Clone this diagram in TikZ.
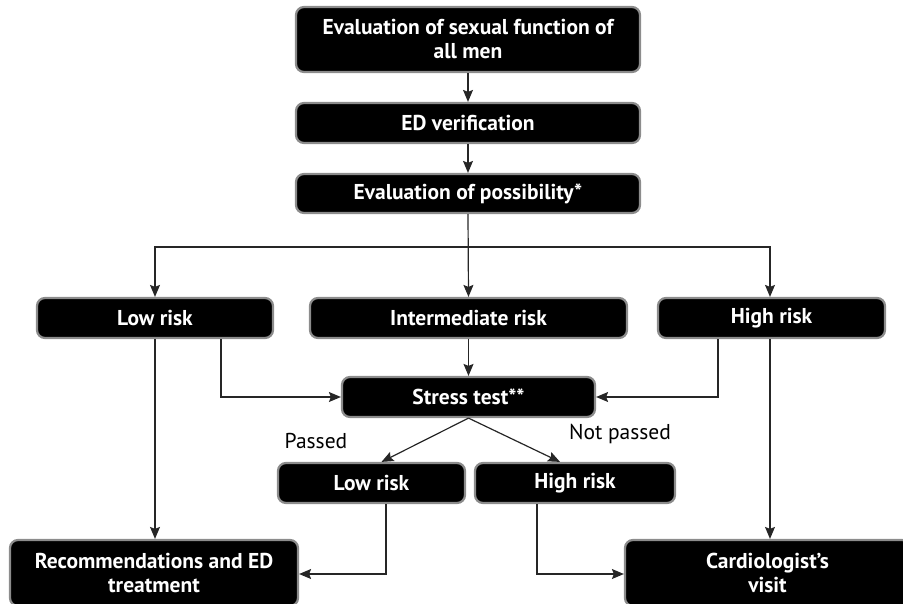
\documentclass[tikz,border=0pt]{standalone}
\usepackage{fontspec}
\setmainfont{PT Sans}
\usetikzlibrary{calc,positioning,arrows.meta}

\begin{document}
\begin{tikzpicture}[
  x=1pt, y=-1pt,
  bbox/.style={draw=black!45, fill=black, text=white, line width=2.2pt,
    rounded corners=8pt, align=center, inner sep=0pt,
    font=\fontsize{21.5}{24}\selectfont\bfseries},
  lbl/.style={font=\fontsize{21.5}{24}\selectfont, text=black},
  arr/.style={-{Stealth[length=12pt,width=10pt,inset=2pt]}, line width=1.2pt, black!85}
]
\useasboundingbox (0,0) rectangle (903,603);

\node[bbox, minimum width=344pt, minimum height=65pt] (allmen) at (468,39.5) {Evaluation of sexual function of\\all men};
\node[bbox, minimum width=344pt, minimum height=40pt] (edver)  at (468,123)   {ED verification};
\node[bbox, minimum width=344pt, minimum height=39pt] (possib) at (468,193.5) {Evaluation of possibility*};

\node[bbox, minimum width=236pt, minimum height=40pt] (lowr)  at (155,318)   {Low risk};
\node[bbox, minimum width=317pt, minimum height=40pt] (intr)  at (468.5,318) {Intermediate risk};
\node[bbox, minimum width=227pt, minimum height=40pt] (highr) at (771.5,318) {High risk};

\node[bbox, minimum width=253pt, minimum height=40pt] (stress) at (468.5,397) {Stress test**};

\node[bbox, minimum width=187pt, minimum height=40pt] (slow)  at (371.5,483) {Low risk};
\node[bbox, minimum width=200pt, minimum height=40pt] (shigh) at (575,483)   {High risk};

\node[bbox, minimum width=288pt, minimum height=66pt] (recom) at (154,573) {Recommendations and ED\\treatment};
\node[bbox, minimum width=285pt, minimum height=66pt] (cardio) at (767.5,573) {Cardiologist’s\\visit};

\draw[arr] (allmen) -- (edver);
\draw[arr] (edver) -- (possib);

\coordinate (split) at (468.5,247);
\draw[arr] (possib.south) -- (intr.north);
\draw[arr] (split) -| (lowr.north);
\draw[arr] (split) -| ([xshift=-1.5pt]highr.north);

\draw[arr] (intr) -- (stress);
\draw[arr] ([xshift=66pt]lowr.south) |- (stress.west);
\draw[arr] ([xshift=-53.5pt]highr.south) |- (stress.east);

\draw[arr] (lowr.south) -- (lowr.south |- recom.north);
\draw[arr] ([xshift=-1.5pt]highr.south) -- ([xshift=-1.5pt]highr.south |- cardio.north);

\draw[arr] (stress.south) -- ([xshift=10pt]slow.north);
\draw[arr] (stress.south) -- ([xshift=-15pt]shigh.north);

\draw[arr] ([xshift=14.5pt]slow.south) |- ([yshift=-1pt]recom.east);
\draw[arr] ([xshift=-38pt]shigh.south) |- ([yshift=-1pt]cardio.west);

\node[lbl] (passed) at (316,441) {Passed};
\node[lbl] (notpassed) at (620,434) {Not passed};
\end{tikzpicture}
\end{document}
